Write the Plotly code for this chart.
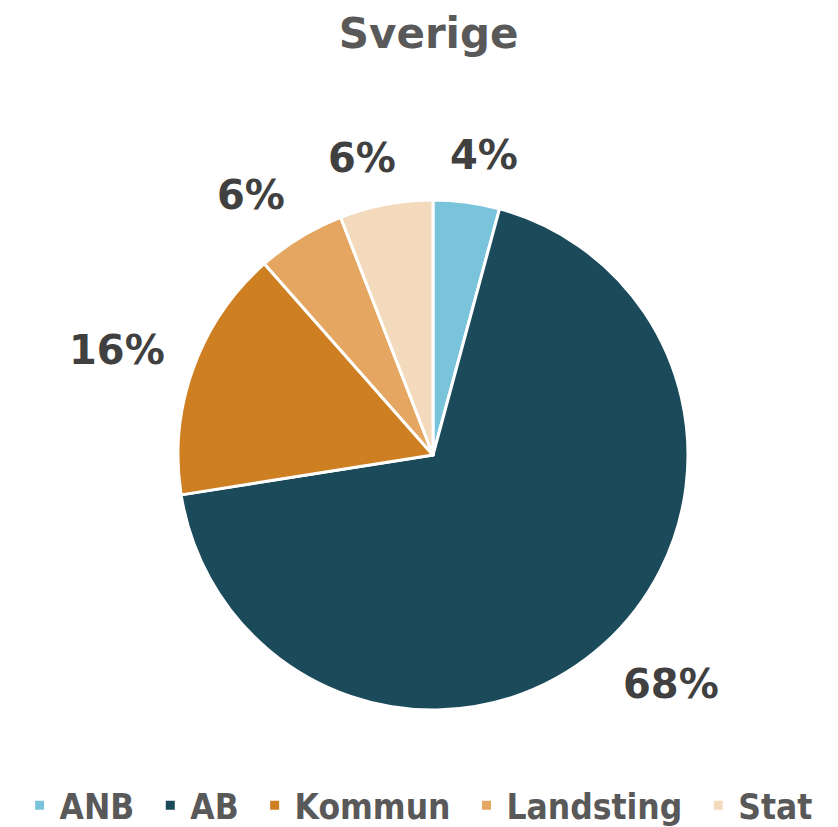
import math
import plotly.graph_objects as go

# data
categories = ['ANB', 'AB', 'Kommun', 'Landsting', 'Stat']
shares = [4.2, 68.3, 16.0, 5.6, 5.9]
colors = ['#79C4DB', '#1B4A5A', '#CE7F21', '#E4A660', '#F4DABD']

W, H = 838, 827
# the page body adds an 8px offset, so the centre is set 8px up/left
cx, cy, R = 425, 447, 255  # pie centre and radius in px
label_size = 40

# a trailing space widens the gaps between legend entries
legend_names = [c + '\u00a0' if i < len(categories) - 1 else c
                for i, c in enumerate(categories)]

fig = go.Figure(go.Pie(
    labels=legend_names,
    values=shares,
    sort=False,
    direction='clockwise',
    rotation=0,
    marker=dict(colors=colors, line=dict(color='white', width=3)),
    textinfo='none',
    domain=dict(x=[(cx - R) / W, (cx + R) / W], y=[1 - (cy + R) / H, 1 - (cy - R) / H]),
    hoverinfo='label+percent',
))


def clamp(a):
    return max(-1.0, min(1.0, a))


# percentage labels outside the slices, Excel style
total = sum(shares)
cum = 0
for v in shares:
    mid = (cum + v / 2) / total * 2 * math.pi
    cum += v
    txt = f'{round(v / total * 100)}%'
    ux, uy = math.sin(mid), -math.cos(mid)
    w = label_size * (0.7 * (len(txt) - 1) + 1.0)
    h = 34
    px = cx + (R + 30) * ux + clamp(ux * 3) * w / 2
    py = cy + (R + 30) * uy + clamp(uy * 1.5) * h / 2
    fig.add_annotation(x=px / W, y=1 - py / H, xref='paper', yref='paper',
                       text=f'<b>{txt}</b>', showarrow=False,
                       xanchor='center', yanchor='middle',
                       font=dict(family='DejaVu Sans', size=label_size, color='#404040'))

fig.update_layout(
    width=W, height=H,
    margin=dict(l=0, r=0, t=0, b=0),
    paper_bgcolor='white',
    title=dict(text='<b>Sverige</b>', x=0.502, xanchor='center', y=0.97, yanchor='middle',
               font=dict(family='DejaVu Sans', size=42, color='#595959')),
    legend=dict(orientation='h', x=0.49, xanchor='center', y=0.0, yanchor='bottom',
                font=dict(family='Liberation Sans Narrow, DejaVu Sans Condensed, Liberation Sans',
                          size=35, color='#595959', weight='bold'),
                itemwidth=30),
    showlegend=True,
)

fig.write_html('out.html')
